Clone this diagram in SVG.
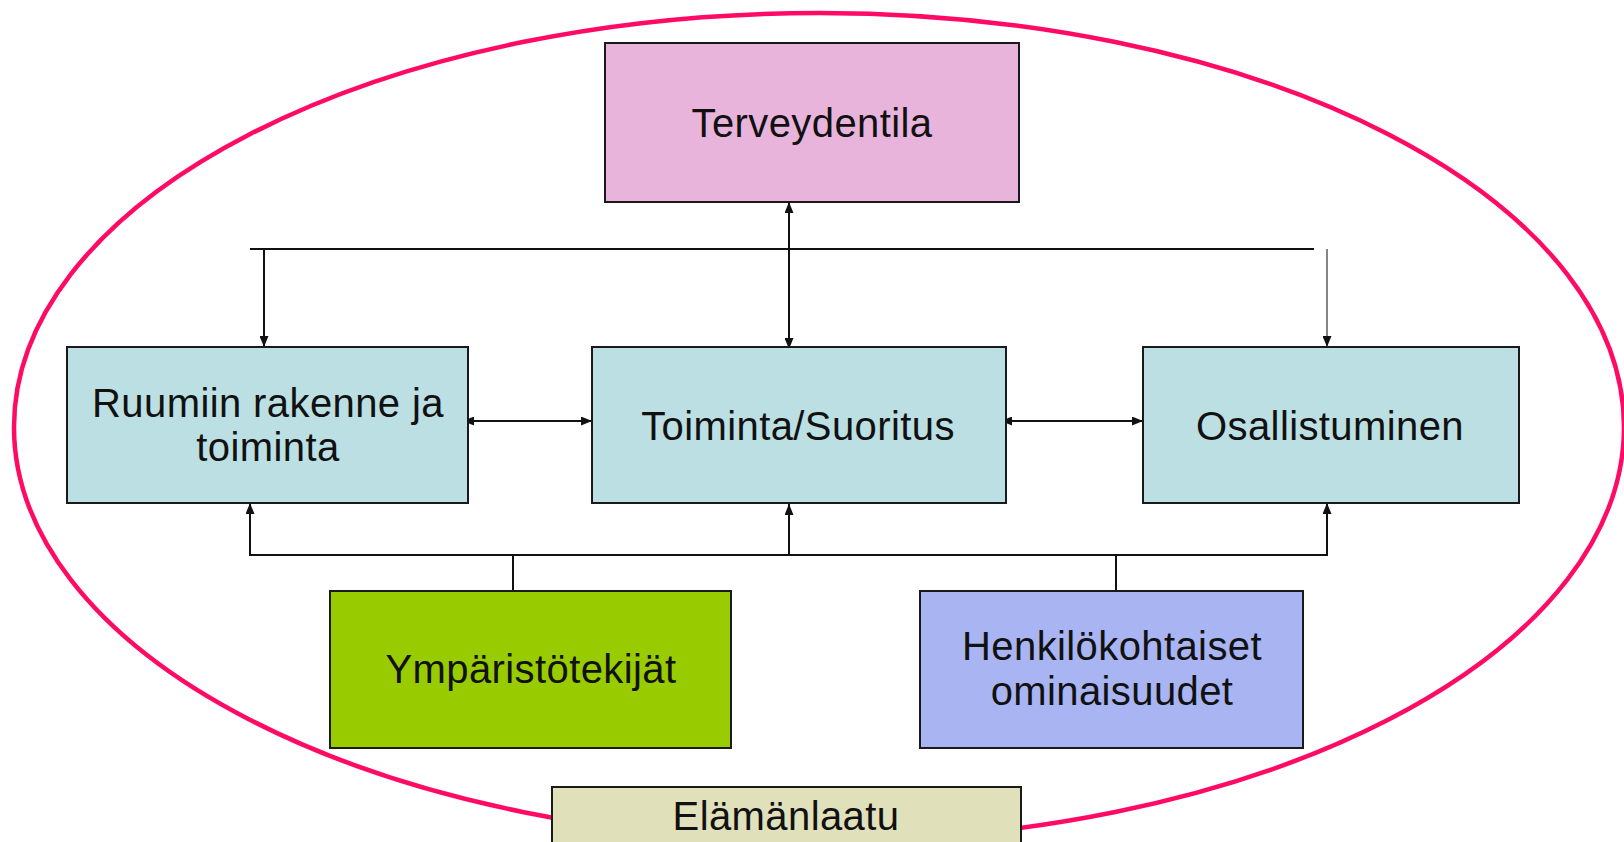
<svg xmlns="http://www.w3.org/2000/svg" width="1624" height="842" viewBox="0 0 1624 842">
  <style>
    .box { stroke: #1a1a1a; stroke-width: 2; }
    .lbl { font-family: "Liberation Sans", Arial, sans-serif; font-size: 40px; fill: #111; text-anchor: middle; letter-spacing: 0.4px; }
    .conn { stroke: #111; stroke-width: 2; fill: none; }
    .thin { stroke: #444; stroke-width: 1.3; fill: none; }
  </style>
  <defs>
    <marker id="ah" viewBox="0 0 11 9" refX="11" refY="4.5" markerWidth="11" markerHeight="9" markerUnits="userSpaceOnUse" orient="auto-start-reverse">
      <path d="M0,0 L11,4.5 L0,9 z" fill="#111"/>
    </marker>
  </defs>
  <rect width="1624" height="842" fill="#ffffff"/>

  <ellipse id="frame" cx="819" cy="427" rx="805" ry="414" fill="none" stroke="#FF0A64" stroke-width="4.5"/>

  <g id="connectors">
    <line class="conn" x1="789" y1="349" x2="789" y2="202" marker-start="url(#ah)" marker-end="url(#ah)"/>
    <line class="conn" x1="250" y1="249" x2="1314" y2="249"/>
    <line class="conn" x1="264" y1="249" x2="264" y2="347" marker-end="url(#ah)"/>
    <line class="thin" x1="1327" y1="249" x2="1327" y2="347" marker-end="url(#ah)"/>
    <line class="conn" x1="463" y1="421" x2="592" y2="421" marker-start="url(#ah)" marker-end="url(#ah)"/>
    <line class="conn" x1="1001" y1="421" x2="1143" y2="421" marker-start="url(#ah)" marker-end="url(#ah)"/>
    <polyline class="conn" points="250,503 250,555 1327,555 1327,503" marker-start="url(#ah)" marker-end="url(#ah)"/>
    <line class="conn" x1="789" y1="555" x2="789" y2="504" marker-end="url(#ah)"/>
    <line class="conn" x1="513" y1="555" x2="513" y2="591"/>
    <line class="conn" x1="1116" y1="555" x2="1116" y2="591"/>
  </g>

  <g id="terveydentila">
    <rect class="box" x="605" y="43" width="414" height="159" fill="#E8B4DC"/>
    <text class="lbl" x="812" y="137">Terveydentila</text>
  </g>

  <g id="ruumiin">
    <rect class="box" x="67" y="347" width="401" height="156" fill="#BBDFE3"/>
    <text class="lbl" x="268" y="417">Ruumiin rakenne ja</text>
    <text class="lbl" x="268" y="461">toiminta</text>
  </g>

  <g id="toiminta">
    <rect class="box" x="592" y="347" width="414" height="156" fill="#BBDFE3"/>
    <text class="lbl" x="798" y="440">Toiminta/Suoritus</text>
  </g>

  <g id="osallistuminen">
    <rect class="box" x="1143" y="347" width="376" height="156" fill="#BBDFE3"/>
    <text class="lbl" x="1330" y="440">Osallistuminen</text>
  </g>

  <g id="ymparisto">
    <rect class="box" x="330" y="591" width="401" height="157" fill="#99CC00"/>
    <text class="lbl" x="531" y="683">Ympäristötekijät</text>
  </g>

  <g id="henkilo">
    <rect class="box" x="920" y="591" width="383" height="157" fill="#A9B4F2"/>
    <text class="lbl" x="1112" y="660">Henkilökohtaiset</text>
    <text class="lbl" x="1112" y="705">ominaisuudet</text>
  </g>

  <g id="elamanlaatu">
    <rect class="box" x="552" y="787" width="469" height="70" fill="#E0E0BA"/>
    <text class="lbl" x="786" y="830">Elämänlaatu</text>
  </g>
</svg>
